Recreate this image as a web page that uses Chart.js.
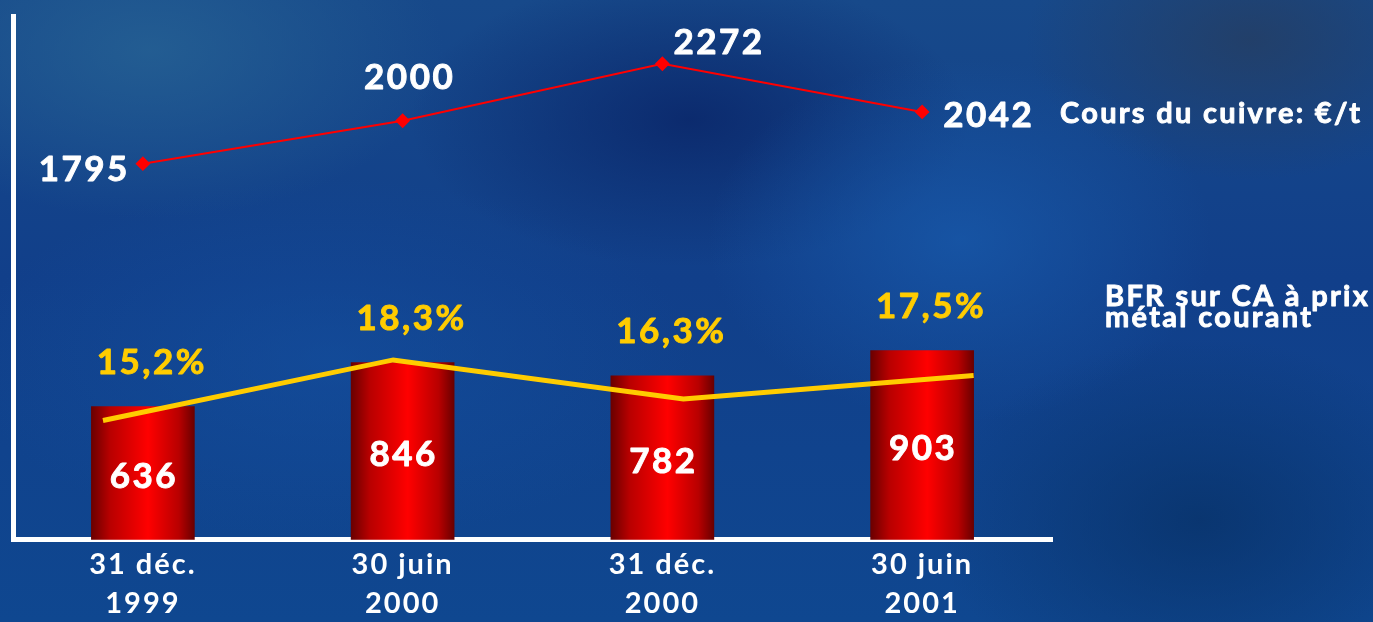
<!DOCTYPE html>
<html lang="fr">
<head>
<meta charset="utf-8">
<title>BFR et cours du cuivre</title>
<script src="https://cdn.jsdelivr.net/npm/chart.js@4.4.1/dist/chart.umd.min.js"></script>
<style>
  html, body { margin: 0; padding: 0; }
  body {
    width: 1373px; height: 622px; overflow: hidden;
    background:
      radial-gradient(ellipse 420px 240px at 150px 50px, rgba(38,98,148,0.8), rgba(38,98,148,0) 70%),
      radial-gradient(ellipse 360px 260px at 960px 240px, rgba(24,90,172,0.75), rgba(24,90,172,0) 70%),
      radial-gradient(ellipse 400px 210px at 690px 120px, rgba(10,38,105,0.85), rgba(10,38,105,0) 70%),
      radial-gradient(ellipse 320px 200px at 1250px 40px, rgba(36,62,100,0.85), rgba(36,62,100,0) 70%),
      radial-gradient(ellipse 380px 260px at 1200px 520px, rgba(8,50,105,0.8), rgba(8,50,105,0) 70%),
      radial-gradient(ellipse 520px 260px at 330px 360px, rgba(20,80,160,0.6), rgba(20,80,160,0) 70%),
      linear-gradient(180deg, #17498a 0%, #113f8a 45%, #0f4790 100%);
  }
  #wrap { position: relative; width: 1373px; height: 622px; }
</style>
</head>
<body>
<div id="wrap"><canvas id="bfrChart"></canvas></div>
<script>
// ── DATA ──────────────────────────────────────────────────────────────
const categories  = [['31 déc.', '1999'], ['30 juin', '2000'], ['31 déc.', '2000'], ['30 juin', '2001']];
const bfrValues   = [636, 846, 782, 903];          // BFR (barres)
const bfrRatio    = [15.2, 18.3, 16.3, 17.5];      // BFR sur CA, %
const copperPrice = [1795, 2000, 2272, 2042];      // Cours du cuivre, €/t
const copperLabel = 'Cours du cuivre: €/t';
const ratioLabel  = ['BFR sur CA à prix', 'métal courant'];

const COLORS = {
  white: '#ffffff', yellow: '#ffcc00', red: '#ff0000',
  barDark: '#6a0000', barMid: '#b80000', barLight: '#ff0000',
};
const FONT = 'Lato, "Open Sans", "DejaVu Sans", sans-serif';

const fmtPct = v => v.toFixed(1).replace('.', ',') + '%';

// filled text with a thin outline of the same colour, to get a heavier face
function heavyText(ctx, text, x, y, color) {
  ctx.fillStyle = color;
  ctx.strokeStyle = color;
  ctx.lineWidth = 0.9;
  ctx.fillText(text, x, y);
  ctx.strokeText(text, x, y);
}

// ── BAR SHADING + LETTER SPACING ──────────────────────────────────────
const shadePlugin = {
  id: 'barShade',
  beforeDraw(chart) {
    // wider lettering for the axis labels (reference face is a wide geometric sans)
    chart.ctx.letterSpacing = '2px';
  },
  beforeDatasetsDraw(chart) {
    const ctx = chart.ctx;
    chart.getDatasetMeta(0).data.forEach(bar => {
      const half = bar.width / 2;
      const g = ctx.createLinearGradient(bar.x - half, 0, bar.x + half, 0);
      g.addColorStop(0, COLORS.barDark);
      g.addColorStop(0.18, COLORS.barMid);
      g.addColorStop(0.55, COLORS.barLight);
      g.addColorStop(0.85, COLORS.barMid);
      g.addColorStop(1, COLORS.barDark);
      bar.options = { ...bar.options, backgroundColor: g };
    });
  }
};

// ── LABELS PLUGIN ─────────────────────────────────────────────────────
const labelsPlugin = {
  id: 'bfrLabels',
  afterDatasetsDraw(chart) {
    const ctx = chart.ctx;
    ctx.save();
    ctx.textBaseline = 'middle';
    ctx.lineJoin = 'round';

    // copper price values
    const cm = chart.getDatasetMeta(2);
    const place = [
      { align: 'right',  dx: -13, dy: 6 },
      { align: 'center', dx: 7,   dy: -43 },
      { align: 'left',   dx: 11,  dy: -21 },
      { align: 'left',   dx: 21,  dy: 4 },
    ];
    ctx.font = 'bold 35px ' + FONT;
    ctx.letterSpacing = '2.5px';
    cm.data.forEach((pt, i) => {
      const p = place[i];
      ctx.textAlign = p.align;
      heavyText(ctx, String(copperPrice[i]), pt.x + p.dx, pt.y + p.dy, COLORS.white);
    });

    // bar values and ratio labels
    const bm = chart.getDatasetMeta(0);
    bm.data.forEach((bar, i) => {
      ctx.textAlign = 'center';
      heavyText(ctx, String(bfrValues[i]), bar.x + 1, (bar.y + bar.base) / 2 + 4, COLORS.white);
      heavyText(ctx, fmtPct(bfrRatio[i]), bar.x + 9, bar.y - 44, COLORS.yellow);
    });

    // series captions
    ctx.textAlign = 'left';
    ctx.font = 'bold 29px ' + FONT;
    ctx.letterSpacing = '2.3px';
    heavyText(ctx, copperLabel, 1060, 114, COLORS.white);
    heavyText(ctx, ratioLabel[0], 1105, 297, COLORS.white);
    heavyText(ctx, ratioLabel[1], 1105, 318, COLORS.white);
    ctx.restore();
  }
};

// ── CHART ─────────────────────────────────────────────────────────────
new Chart(document.getElementById('bfrChart'), {
  type: 'bar',
  data: {
    labels: categories,
    datasets: [
      { type: 'bar', label: 'BFR', data: bfrValues, backgroundColor: COLORS.barLight,
        borderWidth: 0, barThickness: 103, grouped: false, order: 3 },
      { type: 'line', label: ratioLabel.join(' '), xAxisID: 'x2', yAxisID: 'y2',
        data: bfrRatio.map((v, i) => ({ x: i, y: v })),
        borderColor: COLORS.yellow, borderWidth: 5, pointRadius: 0, tension: 0, order: 2 },
      { type: 'line', label: copperLabel, data: copperPrice,
        borderColor: COLORS.red, borderWidth: 2, tension: 0,
        pointStyle: 'rectRot', pointRadius: 6, pointBackgroundColor: COLORS.red,
        pointBorderColor: COLORS.red, order: 1 },
    ]
  },
  options: {
    responsive: true, maintainAspectRatio: false, animation: false,
    layout: { padding: { left: 13, right: 321, top: 16, bottom: -6 } },
    plugins: { legend: { display: false }, tooltip: { enabled: false } },
    scales: {
      x: {
        grid: { display: false, drawTicks: false },
        border: { display: true, color: COLORS.white, width: 5 },
        ticks: { color: COLORS.white, padding: 5, maxRotation: 0,
                 font: { family: FONT, size: 29, weight: 'bold', lineHeight: 1.35 } }
      },
      y: {
        min: 0, max: 2500,
        grid: { display: false, drawTicks: false },
        border: { display: true, color: COLORS.white, width: 5 },
        ticks: { display: false }
      },
      x2: { type: 'linear', display: false, offset: false, min: -0.31, max: 3.27 },
      y2: { display: false, min: 9.1, max: 35.9 }
    }
  },
  plugins: [shadePlugin, labelsPlugin]
});
</script>
</body>
</html>
